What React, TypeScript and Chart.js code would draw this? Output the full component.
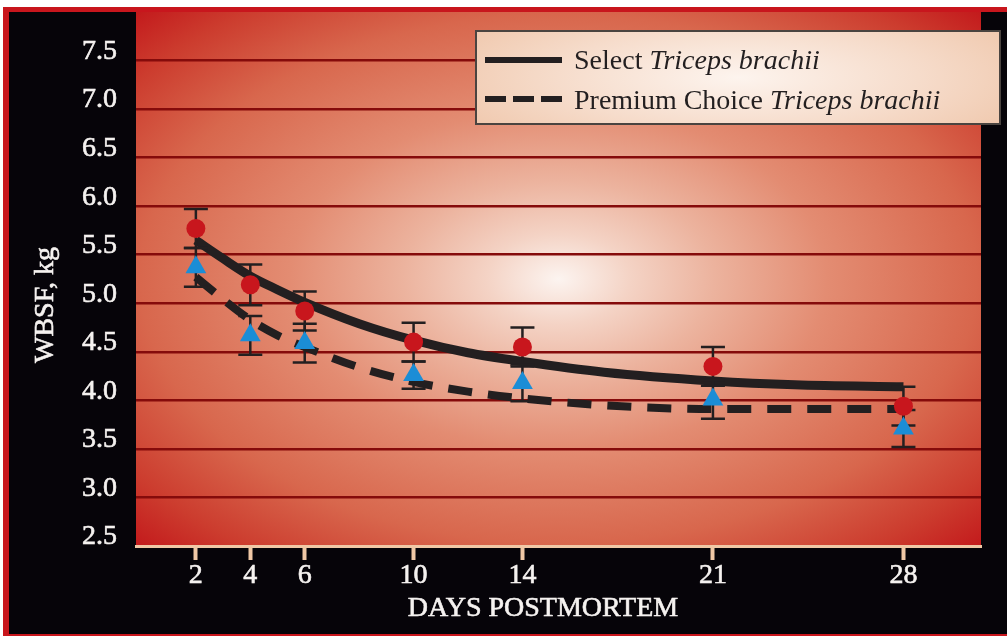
import { useEffect, useRef } from "react";
import { Chart, registerables } from "chart.js";

Chart.register(...registerables);

// Sampling days and tick marks on the x axis
const DAYS = [2, 4, 6, 10, 14, 21, 28];
const X_TICKS = [2, 4, 6, 10, 14, 21, 28];
const Y_TICKS = [2.5, 3.0, 3.5, 4.0, 4.5, 5.0, 5.5, 6.0, 6.5, 7.0, 7.5];

// Mean WBSF (kg) and standard errors per grade
const SELECT_MEANS = [5.77, 5.19, 4.92, 4.6, 4.55, 4.35, 3.94];
const SELECT_SE = [0.2, 0.21, 0.2, 0.2, 0.2, 0.2, 0.2];
const PREMIUM_MEANS = [5.37, 4.67, 4.59, 4.26, 4.18, 4.01, 3.71];
const PREMIUM_SE = [0.2, 0.2, 0.2, 0.14, 0.19, 0.2, 0.19];

// Fitted aging curves
const FIT_DAYS = [2, 3, 4, 5, 6, 8, 10, 12, 14, 17, 21, 24, 28];
const SELECT_FIT = [5.65, 5.46, 5.28, 5.14, 5.01, 4.79, 4.62, 4.49, 4.4, 4.29, 4.2, 4.16, 4.14];
const PREMIUM_FIT = [5.27, 5.04, 4.83, 4.67, 4.55, 4.34, 4.19, 4.09, 4.02, 3.95, 3.91, 3.91, 3.91];

// Legend text
const GRADE_NAMES = ["Select", "Premium Choice"];
const MUSCLE_NAME = "Triceps brachii";

const X_TITLE = "DAYS POSTMORTEM";
const Y_TITLE = "WBSF, kg";

const SERIF = '"Liberation Serif", "Times New Roman", serif';
const INK = "#231f20";
const RED = "#c8161d";
const BLUE = "#1b8dd6";
const TEXT = "#f5f2f0";

const framePlugin = {
  id: "frame",
  beforeDraw(chart: any) {
    const { ctx, chartArea: a, width, height } = chart;
    ctx.save();
    ctx.fillStyle = "#ffffff";
    ctx.fillRect(0, 0, width, height);
    ctx.fillStyle = RED;
    ctx.fillRect(3, 7, width - 3, height - 7);
    ctx.fillStyle = "#060409";
    ctx.fillRect(9, 12, width - 9, height - 14);

    // glowing plot background
    const w = a.right - a.left;
    const h = a.bottom - a.top;
    const sx = w / h;
    ctx.translate(a.left + w / 2, a.top + h / 2);
    ctx.scale(sx, 1);
    const R = Math.hypot(w / 2 / sx, h / 2);
    const g = ctx.createRadialGradient(0, 0, 0, 0, 0, R);
    g.addColorStop(0, "#fcf4f0");
    g.addColorStop(0.12, "#f4d3c5");
    g.addColorStop(0.26, "#ecb39e");
    g.addColorStop(0.45, "#e38c72");
    g.addColorStop(0.7, "#d8674d");
    g.addColorStop(0.88, "#cc3c2e");
    g.addColorStop(1, "#c31a1c");
    ctx.fillStyle = g;
    ctx.fillRect(-w / 2 / sx, -h / 2, w / sx, h);
    ctx.restore();
  },
};

const errorBarPlugin = {
  id: "errorBars",
  afterDatasetDraw(chart: any, args: any) {
    if (args.index !== 2) return;
    const { ctx, scales } = chart;
    const xs = scales.x;
    const ys = scales.y;
    const groups = [
      { means: SELECT_MEANS, se: SELECT_SE },
      { means: PREMIUM_MEANS, se: PREMIUM_SE },
    ];
    ctx.save();
    ctx.strokeStyle = INK;
    ctx.lineWidth = 2.5;
    ctx.lineCap = "butt";
    for (const grp of groups) {
      DAYS.forEach((d, i) => {
        const px = xs.getPixelForValue(d);
        const top = ys.getPixelForValue(grp.means[i] + grp.se[i]);
        const bot = ys.getPixelForValue(grp.means[i] - grp.se[i]);
        ctx.beginPath();
        ctx.moveTo(px, top);
        ctx.lineTo(px, bot);
        ctx.moveTo(px - 12, top);
        ctx.lineTo(px + 12, top);
        ctx.moveTo(px - 12, bot);
        ctx.lineTo(px + 12, bot);
        ctx.stroke();
      });
    }
    ctx.restore();
  },
};

const labelsPlugin = {
  id: "labels",
  afterDraw(chart: any) {
    const { ctx } = chart;
    ctx.save();

    // axis titles
    ctx.fillStyle = TEXT;
    ctx.strokeStyle = TEXT;
    ctx.lineWidth = 0.6;
    ctx.font = `28px ${SERIF}`;
    ctx.textAlign = "center";
    ctx.textBaseline = "alphabetic";
    ctx.fillText(X_TITLE, 543, 616);
    ctx.strokeText(X_TITLE, 543, 616);
    ctx.save();
    ctx.translate(53, 305);
    ctx.rotate(-Math.PI / 2);
    ctx.fillText(Y_TITLE, 0, 0);
    ctx.strokeText(Y_TITLE, 0, 0);
    ctx.restore();

    // legend box
    const bx = 476, by = 31, bw = 524, bh = 93;
    const lsx = bw / bh / 1.6;
    ctx.save();
    ctx.translate(bx + bw / 2, by + bh / 2);
    ctx.scale(lsx, 1);
    const lg = ctx.createRadialGradient(0, 0, 0, 0, 0, bh * 1.1);
    lg.addColorStop(0, "#fdf4ee");
    lg.addColorStop(0.5, "#f6dccb");
    lg.addColorStop(1, "#eec2a4");
    ctx.fillStyle = lg;
    ctx.fillRect(-bw / 2 / lsx, -bh / 2, bw / lsx, bh);
    ctx.restore();
    ctx.strokeStyle = "#4a4440";
    ctx.lineWidth = 2;
    ctx.strokeRect(bx, by, bw, bh);

    const rows = [
      { y: 60, base: 69, dash: [] as number[] },
      { y: 99, base: 109, dash: [21, 7] },
    ];
    rows.forEach((r, i) => {
      ctx.strokeStyle = INK;
      ctx.lineWidth = 6;
      ctx.lineCap = "butt";
      ctx.setLineDash(r.dash);
      ctx.beginPath();
      ctx.moveTo(485, r.y);
      ctx.lineTo(562, r.y);
      ctx.stroke();
      ctx.setLineDash([]);

      ctx.fillStyle = INK;
      ctx.textAlign = "left";
      ctx.textBaseline = "alphabetic";
      ctx.font = `28px ${SERIF}`;
      const plain = GRADE_NAMES[i] + " ";
      ctx.fillText(plain, 574, r.base);
      const wPlain = ctx.measureText(plain).width;
      ctx.font = `italic 28px ${SERIF}`;
      ctx.fillText(MUSCLE_NAME, 574 + wPlain, r.base);
    });
    ctx.restore();
  },
};

export default function App() {
  const canvasRef = useRef<HTMLCanvasElement | null>(null);

  useEffect(() => {
    const canvas = canvasRef.current;
    if (!canvas) return;
    const chart = new Chart(canvas, {
      type: "scatter",
      data: {
        datasets: [
          {
            label: `${GRADE_NAMES[0]} ${MUSCLE_NAME}`,
            data: DAYS.map((d, i) => ({ x: d, y: SELECT_MEANS[i] })),
            pointStyle: "circle",
            pointRadius: 9.5,
            backgroundColor: RED,
            borderColor: RED,
            borderWidth: 0,
            showLine: false,
          },
          {
            label: `${GRADE_NAMES[1]} ${MUSCLE_NAME}`,
            data: DAYS.map((d, i) => ({ x: d, y: PREMIUM_MEANS[i] })),
            pointStyle: "triangle",
            pointRadius: 12,
            backgroundColor: BLUE,
            borderColor: BLUE,
            borderWidth: 0,
            showLine: false,
          },
          {
            label: `${GRADE_NAMES[0]} fit`,
            data: FIT_DAYS.map((d, i) => ({ x: d, y: SELECT_FIT[i] })),
            showLine: true,
            borderColor: INK,
            borderWidth: 9,
            pointRadius: 0,
            cubicInterpolationMode: "monotone",
            borderCapStyle: "butt",
            fill: false,
          },
          {
            label: `${GRADE_NAMES[1]} fit`,
            data: FIT_DAYS.map((d, i) => ({ x: d, y: PREMIUM_FIT[i] })),
            showLine: true,
            borderColor: INK,
            borderWidth: 8,
            borderDash: [24, 16],
            pointRadius: 0,
            cubicInterpolationMode: "monotone",
            borderCapStyle: "butt",
            fill: false,
          },
        ],
      },
      options: {
        animation: false,
        responsive: false,
        events: [],
        layout: { padding: { top: 12, right: 26, left: 0, bottom: 0 } },
        plugins: {
          legend: { display: false },
          tooltip: { enabled: false },
        },
        scales: {
          x: {
            type: "linear",
            min: -0.2,
            max: 30.85,
            afterBuildTicks: (s: any) => {
              s.ticks = X_TICKS.map((v) => ({ value: v }));
            },
            afterFit: (s: any) => {
              s.height = 90;
              s.paddingLeft = 0;
              s.paddingRight = 0;
            },
            grid: {
              drawOnChartArea: false,
              drawTicks: true,
              tickLength: 14,
              tickWidth: 4,
              tickColor: "#f0c8a6",
            },
            border: { display: true, color: "#f0c8a6", width: 3 },
            ticks: {
              color: TEXT,
              textStrokeColor: TEXT,
              textStrokeWidth: 0.6,
              font: { family: SERIF, size: 28, lineHeight: 1 },
              padding: 2,
              maxRotation: 0,
              autoSkip: false,
              callback: (v: any) => String(v),
            },
          },
          y: {
            min: 2.5,
            max: 8.0,
            afterBuildTicks: (s: any) => {
              s.ticks = Y_TICKS.map((v) => ({ value: v }));
            },
            afterFit: (s: any) => {
              s.width = 136;
              s.paddingTop = 0;
              s.paddingBottom = 0;
            },
            grid: {
              drawTicks: false,
              lineWidth: 2.5,
              color: (c: any) =>
                c.tick && c.tick.value > 2.5 ? "#850b0b" : "rgba(0,0,0,0)",
            },
            border: { display: false },
            ticks: {
              color: TEXT,
              textStrokeColor: TEXT,
              textStrokeWidth: 0.6,
              font: { family: SERIF, size: 28, lineHeight: 1 },
              padding: 19,
              labelOffset: -9,
              callback: (v: any) => Number(v).toFixed(1),
            },
          },
        },
      },
      plugins: [framePlugin, errorBarPlugin, labelsPlugin],
    } as any);
    return () => chart.destroy();
  }, []);

  return (
    <div style={{ position: "fixed", left: 0, top: 0, width: 1007, height: 636 }}>
      <canvas ref={canvasRef} width={1007} height={636} style={{ display: "block" }} />
    </div>
  );
}
